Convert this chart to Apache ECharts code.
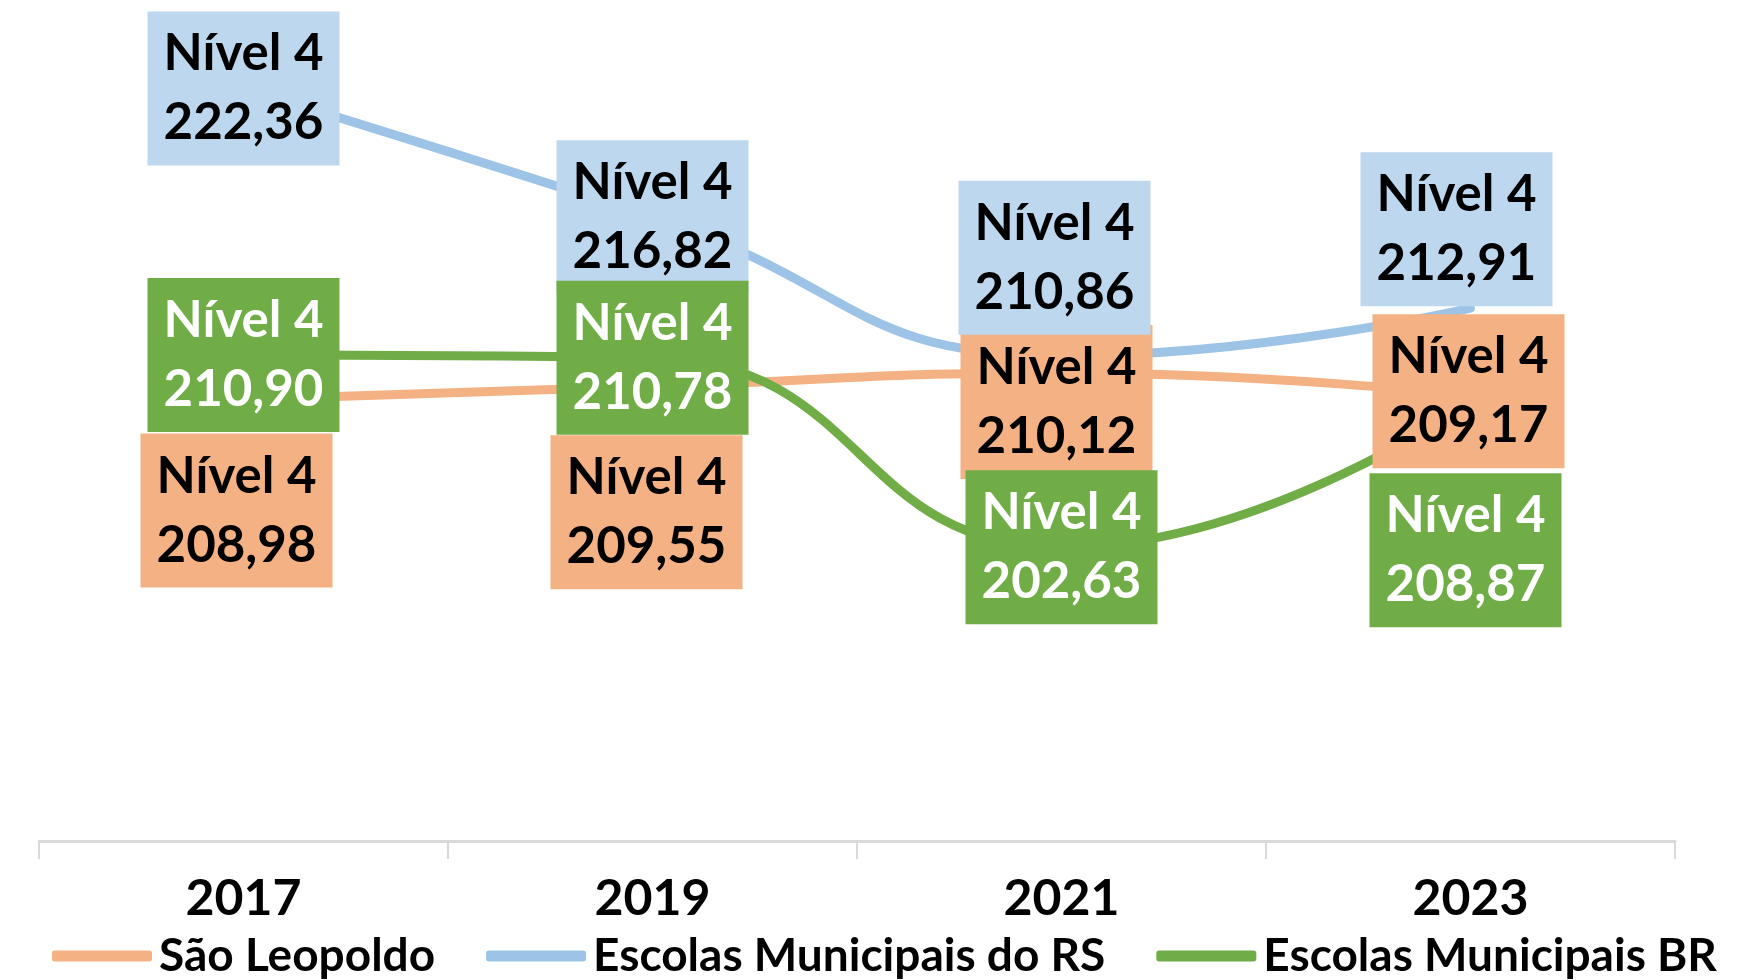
<!DOCTYPE html>
<html>
<head>
<meta charset="utf-8">
<script src="https://cdn.jsdelivr.net/npm/echarts@6/dist/echarts.min.js"></script>
<style>
html,body{margin:0;padding:0;background:#fff;}
#chart{width:1754px;height:980px;}
</style>
</head>
<body>
<div id="chart"></div>
<script>
// ---- data ----
const categories = ['2017', '2019', '2021', '2023'];
const seriesNames = ['São Leopoldo', 'Escolas Municipais do RS', 'Escolas Municipais BR'];
const saoLeopoldo = [208.98, 209.55, 210.12, 209.17];
const municipaisRS = [222.36, 216.82, 210.86, 212.91];
const municipaisBR = [210.90, 210.78, 202.63, 208.87];
const levelText = 'Nível 4';

// ---- styling / label layout (pixels) ----
const lineColors = ['#F4B183', '#9DC3E6', '#70AD47'];
const boxColors = ['#F4B183', '#BDD7EE', '#70AD47'];
const textColors = ['#000000', '#000000', '#FFFFFF'];
const labelShifts = [
  [[-7, 111], [-6, 126], [-5, 29], [-2, -4]],
  [[0, 0], [0, 0], [-7, -98], [-14, -79]],
  [[0, 0], [0, 0], [0, 0], [-5, 148]]
];
const FONT = 'Lato';

const allValues = [saoLeopoldo, municipaisRS, municipaisBR];
const fmt = v => v.toFixed(2).replace('.', ',');

const series = [];
allValues.forEach((vals, s) => {
  series.push({
    name: seriesNames[s],
    type: 'line',
    data: vals,
    smooth: 0.5,
    showSymbol: false,
    symbol: 'none',
    z: 2,
    lineStyle: { color: lineColors[s], width: 9, cap: 'round', join: 'round' },
    itemStyle: { color: lineColors[s] }
  });
});
allValues.forEach((vals, s) => {
  series.push({
    name: seriesNames[s] + ' rótulos',
    type: 'scatter',
    z: 10 + s,
    symbol: 'circle',
    symbolSize: 1,
    itemStyle: { color: 'rgba(0,0,0,0)', opacity: 1 },
    silent: true,
    data: vals.map((v, i) => ({
      value: v,
      label: { offset: labelShifts[s][i] }
    })),
    label: {
      show: true,
      position: 'inside',
      formatter: p => levelText + '\n' + fmt(p.value),
      color: textColors[s],
      opacity: 1,
      backgroundColor: boxColors[s],
      fontFamily: FONT,
      fontWeight: 'bold',
      fontSize: 51,
      lineHeight: 69,
      width: 162,
      align: 'center',
      verticalAlign: 'middle',
      padding: [8, 15, 8, 15]
    }
  });
});

const chart = echarts.init(document.getElementById('chart'), null, { renderer: 'canvas' });
chart.setOption({
  backgroundColor: '#ffffff',
  animation: false,
  grid: { left: 39, right: 79, top: 27, bottom: 139, containLabel: false },
  xAxis: {
    type: 'category',
    data: categories,
    boundaryGap: true,
    axisLine: { show: true, lineStyle: { color: '#D9D9D9', width: 3 } },
    axisTick: { show: true, length: 18, inside: false, alignWithLabel: false, lineStyle: { color: '#D9D9D9', width: 2 } },
    axisLabel: { color: '#000', fontFamily: FONT, fontWeight: 'bold', fontSize: 50, margin: 33 },
    splitLine: { show: false }
  },
  yAxis: {
    type: 'value',
    min: 190,
    max: 225,
    interval: 5,
    show: false
  },
  legend: {
    data: seriesNames,
    left: 52,
    top: 933,
    padding: 0,
    icon: 'roundRect',
    itemWidth: 100,
    itemHeight: 11,
    itemGap: 51,
    textStyle: { color: '#000', fontFamily: FONT, fontWeight: 'bold', fontSize: 46, padding: [0, 0, 0, 2] }
  },
  series: series
});
</script>
</body>
</html>
